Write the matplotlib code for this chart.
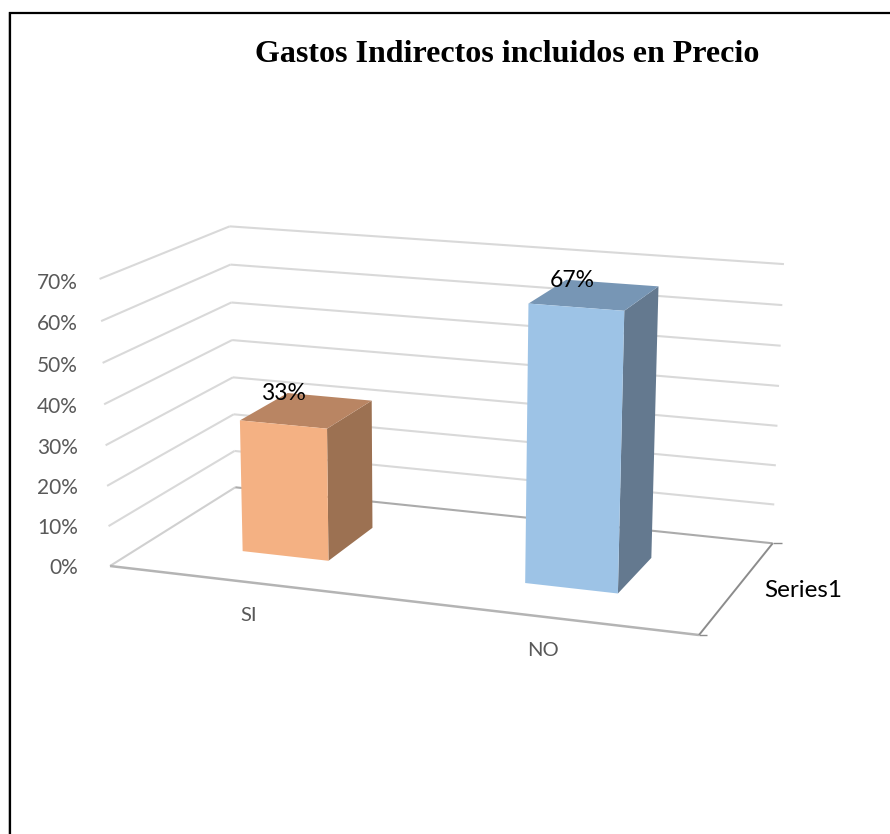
import numpy as np
import matplotlib
matplotlib.use("Agg")
import matplotlib.pyplot as plt
from matplotlib.patches import Polygon

title = "Gastos Indirectos incluidos en Precio"
categories = ["SI", "NO"]
values = [33, 67]
value_labels = ["33%", "67%"]
ticks = [0, 10, 20, 30, 40, 50, 60, 70]
series_name = "Series1"
front_colors = ["#F4B183", "#9DC3E6"]
top_colors = ["#B98563", "#7796B5"]
side_colors = ["#9C7152", "#64798F"]

# Projective camera: floor corners and vertical scale calibrated to the picture
P0, P1, P2, P3 = (110, 566), (699, 635), (772.7, 543.3), (235.3, 487.3)
G, H, I = -0.0767, 0.10654, -0.00046
AX = P1[0] * (1 + G) - P0[0]
BX = P3[0] * (1 + H) - P0[0]
AY = P1[1] * (1 + G) - P0[1]
BY = P3[1] * (1 + H) - P0[1]
CX, CY = -0.195, -4.229


def proj(u, d, v):
    w = 1 + G * u + H * d + I * v
    return ((AX * u + BX * d + CX * v + P0[0]) / w,
            (AY * u + BY * d + CY * v + P0[1]) / w)


fig = plt.figure(figsize=(8.90, 8.34), dpi=100)
ax = fig.add_axes([0, 0, 1, 1])
ax.set_xlim(0, 890)
ax.set_ylim(834, 0)
ax.axis("off")


def seg(a, b, color, lw, z=1):
    ax.plot([a[0], b[0]], [a[1], b[1]], color=color, lw=lw, zorder=z,
            solid_capstyle="butt")


# frame
ax.plot([8.7, 8.7], [13, 834], color="#C8C8C8", lw=1.2, zorder=5)
ax.plot([10.3, 10.3, 890], [834, 13, 13], color="black", lw=1.6, zorder=6,
        solid_joinstyle="miter")

# walls
for t in ticks[1:]:
    seg(proj(0, 0, t), proj(0, 1, t), "#D9D9D9", 1.5)
    seg(proj(0, 1, t), proj(1, 1, t), "#D9D9D9", 1.5)

# floor
seg(proj(0, 0, 0), proj(0, 1, 0), "#D0D0D0", 1.5)
seg(proj(0, 1, 0), proj(1, 1, 0), "#ABABAB", 1.5)
seg(proj(0, 0, 0), proj(1, 0, 0), "#B4B4B4", 1.8)
seg(proj(1, 0, 0), proj(1, 1, 0), "#8C8C8C", 1.4)
seg(proj(1, 0, 0), (proj(1, 0, 0)[0] + 8, proj(1, 0, 0)[1]), "#8C8C8C", 1.0)
seg(proj(1, 1, 0), (proj(1, 1, 0)[0] + 9, proj(1, 1, 0)[1]), "#8C8C8C", 1.0)

# bars
half_width, d0, d1 = 0.078, 0.30, 0.70
label_shift = [(-4, 0), (6, 1)]
n = len(categories)
for i, val in enumerate(values):
    c = (i + 0.5) / n
    u0, u1 = c - half_width, c + half_width
    front = [proj(u0, d0, 0), proj(u1, d0, 0), proj(u1, d0, val), proj(u0, d0, val)]
    side = [proj(u1, d0, 0), proj(u1, d1, 0), proj(u1, d1, val), proj(u1, d0, val)]
    top = [proj(u0, d0, val), proj(u1, d0, val), proj(u1, d1, val), proj(u0, d1, val)]
    ax.add_patch(Polygon(side, fc=side_colors[i], ec="none", zorder=3))
    ax.add_patch(Polygon(top, fc=top_colors[i], ec="none", zorder=3))
    ax.add_patch(Polygon(front, fc=front_colors[i], ec="none", zorder=4))
    lab = proj(u0, d1, val)
    ax.text(lab[0] + label_shift[i][0], lab[1] + label_shift[i][1], value_labels[i],
            ha="center", va="center", fontsize=16.5, family="Lato", color="black",
            zorder=7)
    base = proj(c, 0, 0)
    ax.text(base[0], base[1] + 33.5, categories[i], ha="center", va="center",
            fontsize=14.5, family="Lato", color="#595959", zorder=7)

# value axis labels
for t in ticks:
    p = proj(0, 0, t)
    ax.text(78, p[1] + 1.5 + 0.03 * t, f"{t}%", ha="right", va="center", fontsize=15,
            family="Lato", color="#595959", zorder=7)

ax.text(803, 590.5, series_name, ha="center", va="center", fontsize=17.5,
        family="Lato", color="black", zorder=7)
ax.text(507.5, 54, title, ha="center", va="center", fontsize=23,
        family="Liberation Serif", fontweight="bold", color="black", zorder=7)

fig.savefig("out.png", dpi=100)
